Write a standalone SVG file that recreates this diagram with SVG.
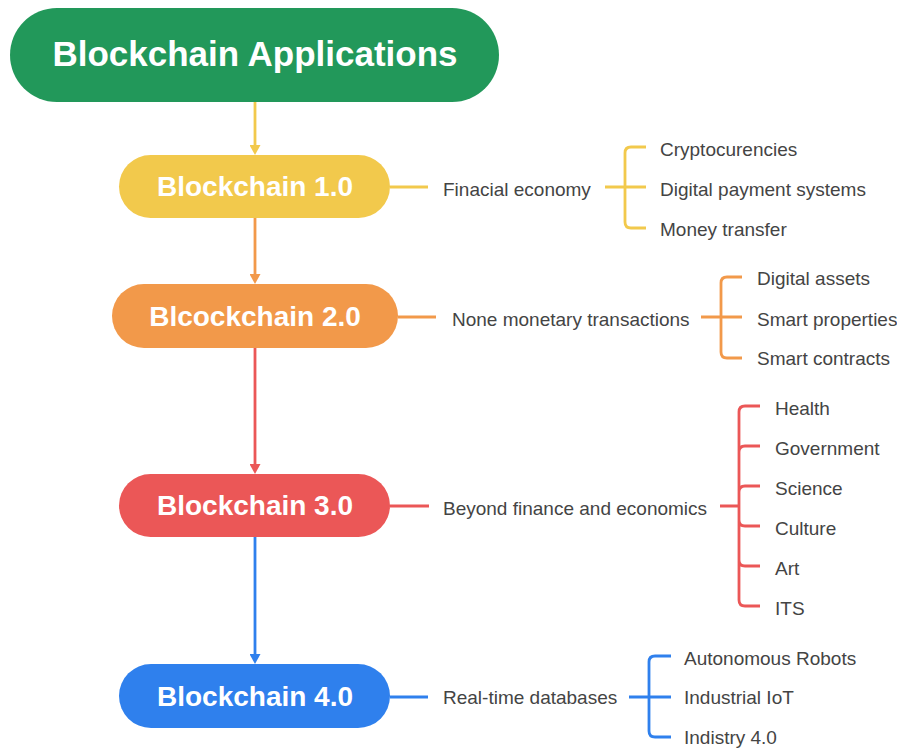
<svg xmlns="http://www.w3.org/2000/svg" width="897" height="749" viewBox="0 0 897 749">
<style>
.title{font-family:"Liberation Sans",Arial,sans-serif;font-weight:bold;fill:#fff;text-anchor:middle}
.t{font-family:"Liberation Sans",Arial,sans-serif;font-size:19px;fill:#444}
.c{fill:none;stroke-width:2.8;stroke-linecap:butt}
.y{stroke:#F2C94C}.o{stroke:#F2994A}.r{stroke:#EB5757}.b{stroke:#2F80ED}
</style>
<defs>
<marker id="ay" viewBox="0 0 10 11" markerWidth="10" markerHeight="11" refX="1" refY="5.5" orient="auto" markerUnits="userSpaceOnUse"><path d="M0,0 L10,5.5 L0,11 z" fill="#F2C94C"/></marker>
<marker id="ao" viewBox="0 0 10 11" markerWidth="10" markerHeight="11" refX="1" refY="5.5" orient="auto" markerUnits="userSpaceOnUse"><path d="M0,0 L10,5.5 L0,11 z" fill="#F2994A"/></marker>
<marker id="ar" viewBox="0 0 10 11" markerWidth="10" markerHeight="11" refX="1" refY="5.5" orient="auto" markerUnits="userSpaceOnUse"><path d="M0,0 L10,5.5 L0,11 z" fill="#EB5757"/></marker>
<marker id="ab" viewBox="0 0 10 11" markerWidth="10" markerHeight="11" refX="1" refY="5.5" orient="auto" markerUnits="userSpaceOnUse"><path d="M0,0 L10,5.5 L0,11 z" fill="#2F80ED"/></marker>
</defs>
<rect width="897" height="749" fill="#fff"/>
<g id="connectors">
<path class="c y" d="M255,102 V146" marker-end="url(#ay)"/>
<path class="c o" d="M255,218 V275" marker-end="url(#ao)"/>
<path class="c r" d="M255,348 V465" marker-end="url(#ar)"/>
<path class="c b" d="M255,537 V655" marker-end="url(#ab)"/>
<path class="c y" d="M390,187 H428"/>
<path class="c y" d="M605,187 H646 M625,187 V153 Q625,147 631,147 H646 M625,187 V222 Q625,228 631,228 H646"/>
<path class="c o" d="M398,317 H436"/>
<path class="c o" d="M701,317 H742 M721,317 V283 Q721,277 727,277 H742 M721,317 V352 Q721,358 727,358 H742"/>
<path class="c r" d="M390,506 H429"/>
<path class="c r" d="M720,506 H739 M739,506 V412 Q739,406 745,406 H760 M739,506 V452 Q739,446 745,446 H760 M739,506 V492 Q739,486 745,486 H760 M739,506 V520 Q739,526 745,526 H760 M739,506 V560 Q739,566 745,566 H760 M739,506 V600 Q739,606 745,606 H760"/>
<path class="c b" d="M390,697 H428"/>
<path class="c b" d="M629,697 H671 M649,697 V662 Q649,656 655,656 H671 M649,697 V731 Q649,737 655,737 H671"/>
</g>
<g id="root">
<rect x="10" y="8" width="489" height="94" rx="47" fill="#22985A"/>
<text class="title" x="255" y="66" font-size="35">Blockchain Applications</text>
</g>
<g id="bc1">
<rect x="119" y="155" width="271" height="63" rx="31.5" fill="#F2C94C"/>
<text class="title" x="255" y="196" font-size="28">Blockchain 1.0</text>
</g>
<g id="bc2">
<rect x="112" y="284" width="286" height="64" rx="32" fill="#F2994A"/>
<text class="title" x="255" y="326" font-size="28">Blcockchain 2.0</text>
</g>
<g id="bc3">
<rect x="119" y="474" width="271" height="63" rx="31.5" fill="#EB5757"/>
<text class="title" x="255" y="515" font-size="28">Blockchain 3.0</text>
</g>
<g id="bc4">
<rect x="119" y="664" width="271" height="64" rx="32" fill="#2F80ED"/>
<text class="title" x="255" y="706" font-size="28">Blockchain 4.0</text>
</g>
<g id="l1">
<text class="t" x="443" y="196">Finacial economy</text>
<text class="t" x="660" y="156">Cryptocurencies</text>
<text class="t" x="660" y="196">Digital payment systems</text>
<text class="t" x="660" y="236">Money transfer</text>
</g>
<g id="l2">
<text class="t" x="452" y="326">None monetary transactions</text>
<text class="t" x="757" y="285">Digital assets</text>
<text class="t" x="757" y="326">Smart properties</text>
<text class="t" x="757" y="365">Smart contracts</text>
</g>
<g id="l3">
<text class="t" x="443" y="515">Beyond finance and economics</text>
<text class="t" x="775" y="415">Health</text>
<text class="t" x="775" y="455">Government</text>
<text class="t" x="775" y="495">Science</text>
<text class="t" x="775" y="535">Culture</text>
<text class="t" x="775" y="575">Art</text>
<text class="t" x="775" y="615">ITS</text>
</g>
<g id="l4">
<text class="t" x="443" y="704">Real-time databases</text>
<text class="t" x="684" y="665">Autonomous Robots</text>
<text class="t" x="684" y="704">Industrial IoT</text>
<text class="t" x="684" y="744">Indistry 4.0</text>
</g>
</svg>
